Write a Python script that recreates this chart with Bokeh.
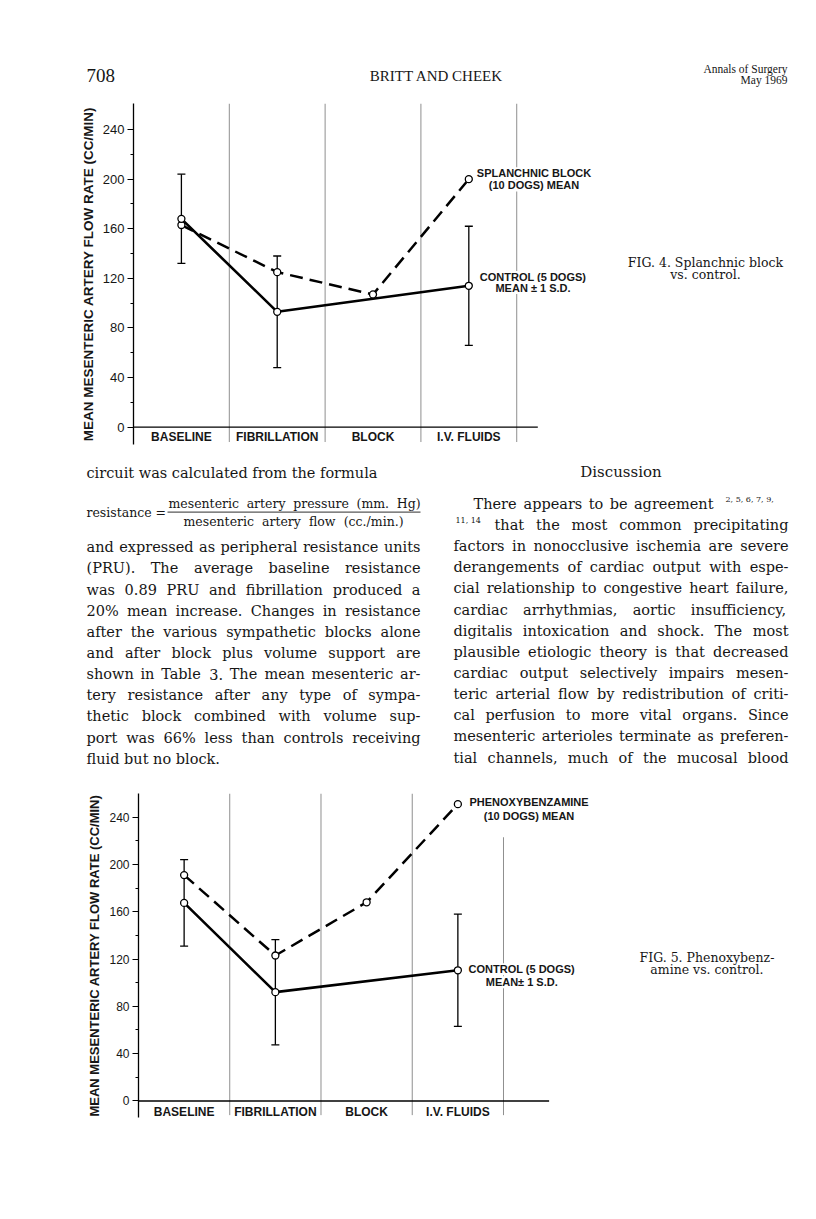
from bokeh.plotting import figure
from bokeh.layouts import column
from bokeh.models import ColumnDataSource, Range1d, FixedTicker, Whisker, TeeHead
from bokeh.embed import file_html
from bokeh.resources import INLINE
from bokeh.core.properties import value

# ---------------- data ----------------
categories = ["BASELINE", "FIBRILLATION", "BLOCK", "I.V. FLUIDS"]
y_ticks = [0, 40, 80, 120, 160, 200, 240]
y_minor_ticks = [20, 60, 100, 140, 180, 220]

fig4_control_mean = [168, 93, None, 114]
fig4_control_sd = [36, 45, None, 48]
fig4_block_mean = [163, 125, 107, 200]

fig5_control_mean = [167.5, 92, None, 110.5]
fig5_control_sd = [36.5, 44.5, None, 47.5]
fig5_block_mean = [191, 123, 168, 251]

Y_LABEL = "MEAN MESENTERIC ARTERY FLOW RATE (CC/MIN)"

SERIF = value("DejaVu Serif")
HEADSERIF = value("Liberation Serif")
SANS = value("Liberation Sans")
INK = "#161616"
PAGE_W = 816

# approximate advance widths (em) of DejaVu Serif, used only to justify lines
CW = {c: w for c, w in zip("abcdefghijklmnopqrstuvwxyz",
      [.598, .640, .559, .640, .592, .370, .640, .644, .320, .310, .606, .320, .948,
       .644, .602, .640, .640, .478, .513, .402, .644, .565, .856, .564, .565, .523])}
CW.update({c: w for c, w in zip("ABCDEFGHIJKLMNOPQRSTUVWXYZ",
      [.722, .735, .765, .802, .732, .675, .800, .872, .404, .405, .765, .666, 1.0,
       .820, .820, .685, .820, .770, .685, .700, .812, .722, 1.0, .722, .700, .700])})
CW.update({d: .636 for d in "0123456789"})
CW.update({".": .318, ",": .318, "%": .95, "(": .39, ")": .39, "-": .338, "/": .337, "=": .838})


def no_align(p):
    if "frame_align" in p.properties():
        p.frame_align = False


def justify(line, x0, x1, size):
    words = line.split(" ")
    widths = [sum(CW.get(c, .6) for c in w) * size for w in words]
    if len(words) == 1:
        return words, [x0]
    gap = (x1 - x0 - sum(widths)) / (len(words) - 1)
    xs, x = [], x0
    for w in widths:
        xs.append(x)
        x += w + gap
    return words, xs


def text_fig(height, top_y):
    p = figure(width=PAGE_W, height=height, x_range=Range1d(0, PAGE_W),
               y_range=Range1d(top_y + height, top_y), output_backend="svg",
               toolbar_location=None, x_axis_location=None, y_axis_location=None,
               min_border=0, min_border_left=0, min_border_right=0,
               min_border_top=0, min_border_bottom=0)
    p.outline_line_color = None
    p.grid.visible = False
    p.background_fill_color = "white"
    p.border_fill_color = "white"
    no_align(p)
    return p


# ---------------- header ----------------
header = text_fig(88, 0)
header.text(x=[86], y=[75], text=["708"], text_font=HEADSERIF, text_font_size="19px",
            text_baseline="middle", text_align="left", text_color=INK)
header.text(x=[436], y=[75], text=["BRITT AND CHEEK"], text_font=HEADSERIF,
            text_font_size="15px", text_baseline="middle", text_align="center", text_color=INK)
header.text(x=[787, 787], y=[68, 79], text=["Annals of Surgery", "May 1969"], text_font=HEADSERIF,
            text_font_size="11.5px", text_baseline="middle", text_align="right", text_color=INK)


# ---------------- charts ----------------
def chart(height, b_top, b_bottom, b_left, y_end, x_end, axis_end, tick_size, label_size,
          ctrl_mean, ctrl_sd, blk_mean, div_tops, cat_y,
          blk_label, blk_label_xy, ctrl_label, ctrl_label_xy, caption, caption_xy):
    p = figure(width=PAGE_W, height=height, x_range=Range1d(0, x_end), y_range=Range1d(-14, y_end),
               output_backend="svg", toolbar_location=None, x_axis_location=None,
               y_axis_location="left", min_border_left=b_left, min_border_right=16,
               min_border_top=b_top, min_border_bottom=b_bottom)
    p.outline_line_color = None
    p.grid.visible = False
    p.background_fill_color = "white"
    p.border_fill_color = "white"
    no_align(p)

    ax = p.yaxis[0]
    ax.ticker = FixedTicker(ticks=y_ticks, minor_ticks=y_minor_ticks)
    ax.axis_line_color = "black"
    ax.axis_line_width = 1.3
    ax.major_tick_out = 6
    ax.major_tick_in = 0
    ax.minor_tick_out = 3
    ax.minor_tick_in = 0
    ax.major_tick_line_width = 1.2
    ax.minor_tick_line_width = 1.0
    ax.major_label_standoff = 3
    ax.major_label_text_font = "Liberation Sans"
    ax.major_label_text_font_size = tick_size
    ax.major_label_text_color = INK
    ax.axis_label = Y_LABEL
    ax.axis_label_text_font = "Liberation Sans"
    ax.axis_label_text_font_style = "bold"
    ax.axis_label_text_font_size = label_size
    ax.axis_label_text_color = INK
    ax.axis_label_standoff = 4

    n = len(categories)
    cat_x = [i + 0.5 for i in range(n)]
    dividers = [i + 1 for i in range(n)]

    # category dividers
    p.segment(x0=dividers, y0=[-12] * n, x1=dividers, y1=div_tops,
              line_color="#8f8f8f", line_width=1)
    # horizontal axis line
    p.segment(x0=[0], y0=[0], x1=[axis_end], y1=[0], line_color="black", line_width=1.4)
    # category labels
    p.text(x=cat_x, y=[cat_y] * n, text=categories, text_font=SANS, text_font_style="bold",
           text_font_size="12px", text_align="center", text_baseline="middle", text_color=INK)

    # series labels (white background hides dividers)
    p.text(x=[blk_label_xy[0]] * 2, y=blk_label_xy[1], text=blk_label, text_font=SANS,
           text_font_style="bold", text_font_size="11px", text_align="center",
           text_baseline="middle", text_color=INK, background_fill_color="white")
    p.text(x=[ctrl_label_xy[0]] * 2, y=ctrl_label_xy[1], text=ctrl_label, text_font=SANS,
           text_font_style="bold", text_font_size="11px", text_align="center",
           text_baseline="middle", text_color=INK, background_fill_color="white")
    # figure caption
    p.text(x=[caption_xy[0]] * 2, y=caption_xy[1], text=caption, text_font=SERIF,
           text_font_size="12.5px", text_align="center", text_baseline="middle", text_color=INK)

    # control: mean +- 1 SD
    cx = [x for x, m in zip(cat_x, ctrl_mean) if m is not None]
    cm = [m for m in ctrl_mean if m is not None]
    cs = [s for s in ctrl_sd if s is not None]
    wsrc = ColumnDataSource(dict(x=cx, upper=[m + s for m, s in zip(cm, cs)],
                                 lower=[m - s for m, s in zip(cm, cs)]))
    p.add_layout(Whisker(source=wsrc, base="x", upper="upper", lower="lower",
                         line_color="black", line_width=1.3,
                         upper_head=TeeHead(size=8, line_width=1.3, line_color="black"),
                         lower_head=TeeHead(size=8, line_width=1.3, line_color="black")))
    p.line(cx, cm, line_color="black", line_width=2.6)
    # treated series (dashed)
    p.line(cat_x, blk_mean, line_color="black", line_width=2.5, line_dash="13 7")
    p.scatter(cat_x, blk_mean, marker="circle", size=7, fill_color="white",
              line_color="black", line_width=1.3)
    p.scatter(cx, cm, marker="circle", size=7, fill_color="white",
              line_color="black", line_width=1.3)
    return p


chart1 = chart(367, 15, 11, 133, 261, 6.962, 4.22, "13px", "13.5px",
               fig4_control_mean, fig4_control_sd, fig4_block_mean,
               [261, 261, 261, 261], -8.3,
               ["SPLANCHNIC BLOCK", "(10 DOGS) MEAN"], (4.18, [204.8, 194.9]),
               ["CONTROL (5 DOGS)", "MEAN \u00b1 1 S.D."], (4.17, [121.0, 112.2]),
               ["FIG. 4. Splanchnic block", "vs. control."], (5.97, [132.8, 122.7]))

chart2 = chart(440, 18, 98, 138, 260, 7.255, 4.5, "12px", "13px",
               fig5_control_mean, fig5_control_sd, fig5_block_mean,
               [260, 260, 260, 223], -9.3,
               ["PHENOXYBENZAMINE", "(10 DOGS) MEAN"], (4.28, [252.4, 240.9]),
               ["CONTROL (5 DOGS)", "MEAN\u00b1 1 S.D."], (4.2, [111.3, 100.3]),
               ["FIG. 5. Phenoxybenz-", "amine vs. control."], (6.23, [121.4, 110.9]))

# ---------------- body text ----------------
body = text_fig(320, 455)
FS = 14.5
words_x, words_y, words_t = [], [], []


def put_line(line, x0, x1, y, justified=True):
    if justified:
        ws, xs = justify(line, x0, x1, FS)
    else:
        ws, xs = [line], [x0]
    words_t.extend(ws)
    words_x.extend(xs)
    words_y.extend([y] * len(ws))


left_lines = [
    "and expressed as peripheral resistance units",
    "(PRU). The average baseline resistance",
    "was 0.89 PRU and fibrillation produced a",
    "20% mean increase. Changes in resistance",
    "after the various sympathetic blocks alone",
    "and after block plus volume support are",
    "shown in Table 3. The mean mesenteric ar-",
    "tery resistance after any type of sympa-",
    "thetic block combined with volume sup-",
    "port was 66% less than controls receiving",
    "fluid but no block.",
]
right_lines = [
    "factors in nonocclusive ischemia are severe",
    "derangements of cardiac output with espe-",
    "cial relationship to congestive heart failure,",
    "cardiac arrhythmias, aortic insufficiency,",
    "digitalis intoxication and shock. The most",
    "plausible etiologic theory is that decreased",
    "cardiac output selectively impairs mesen-",
    "teric arterial flow by redistribution of criti-",
    "cal perfusion to more vital organs. Since",
    "mesenteric arterioles terminate as preferen-",
    "tial channels, much of the mucosal blood",
]
LH = 21.15
put_line("circuit was calculated from the formula", 86, 420, 472, justified=False)
for k, ln in enumerate(left_lines):
    put_line(ln, 86, 420, 546.7 + k * LH, justified=(k < len(left_lines) - 1))
put_line("There appears to be agreement", 473, 713, 503.3)
put_line("that the most common precipitating", 494, 788, 524.4)
for k, ln in enumerate(right_lines):
    put_line(ln, 453, 788, 545.6 + k * LH)

body.text(x=words_x, y=words_y, text=words_t, text_font=SERIF, text_font_size="14.5px",
          text_align="left", text_baseline="middle", text_color=INK)
body.text(x=[620.5], y=[471.7], text=["Discussion"], text_font=SERIF, text_font_size="15px",
          text_align="center", text_baseline="middle", text_color=INK)
body.text(x=[725, 455], y=[499, 520], text=["2, 5, 6, 7, 9,", "11, 14"], text_font=SERIF,
          text_font_size="8px", text_align="left", text_baseline="middle", text_color=INK)

# formula
FF = 12.5
fx, fy, ft = [], [], []
for ln, x0, x1, y in [("mesenteric artery pressure (mm. Hg)", 168, 420, 503.3),
                      ("mesenteric artery flow (cc./min.)", 183, 403, 521.0)]:
    ws, xs = justify(ln, x0, x1, FF)
    ft.extend(ws); fx.extend(xs); fy.extend([y] * len(ws))
body.text(x=fx, y=fy, text=ft, text_font=SERIF, text_font_size="12.5px",
          text_align="left", text_baseline="middle", text_color=INK)
body.text(x=[86], y=[512], text=["resistance ="], text_font=SERIF, text_font_size="12.5px",
          text_align="left", text_baseline="middle", text_color=INK)
body.segment(x0=[167], y0=[511.6], x1=[420], y1=[511.6], line_color=INK, line_width=0.9)

layout = column(header, chart1, body, chart2)
open("out.html", "w").write(file_html(layout, INLINE))
